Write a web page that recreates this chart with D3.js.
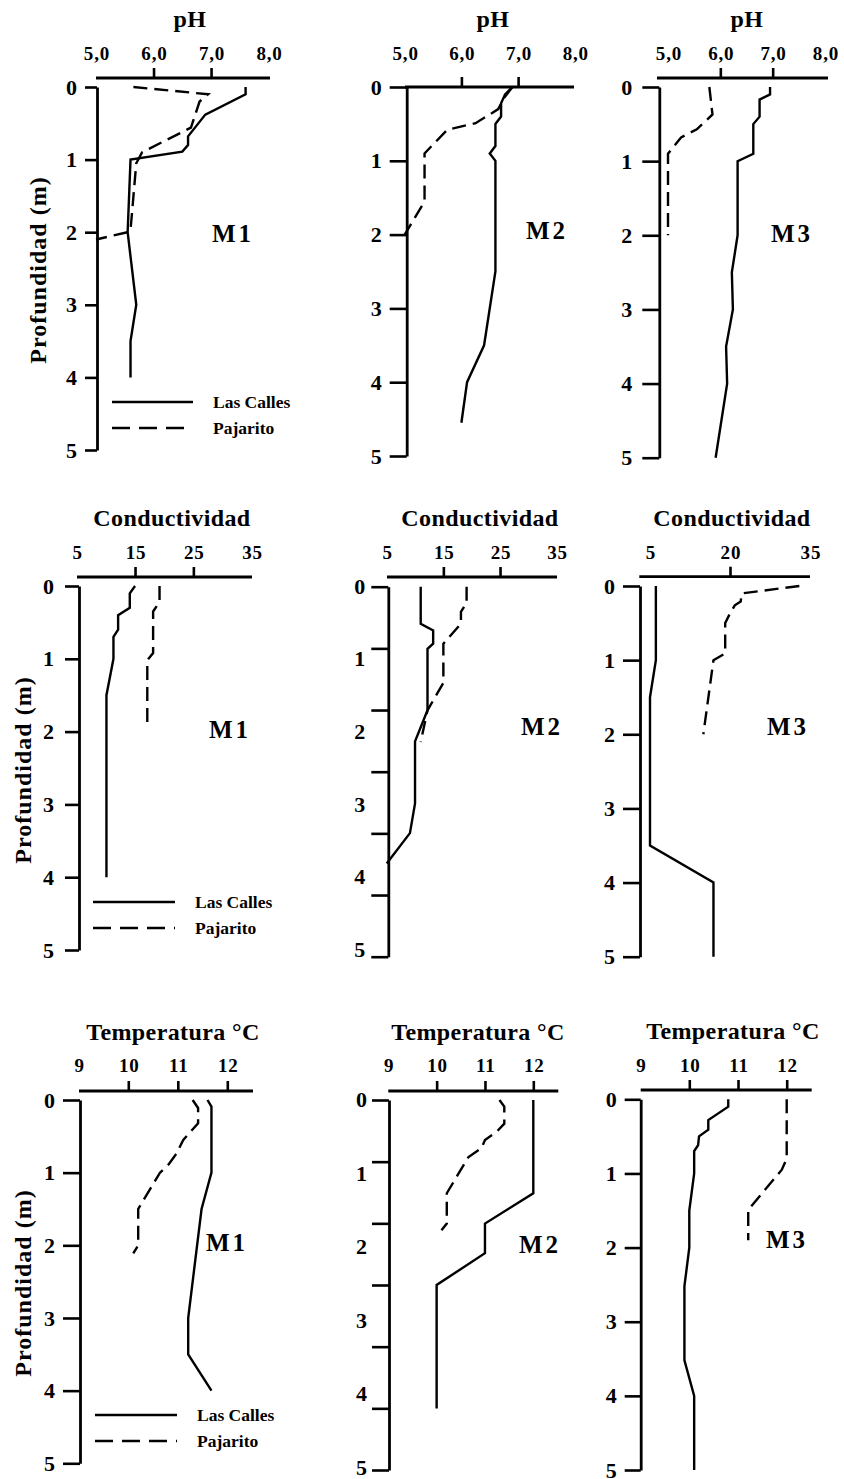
<!DOCTYPE html>
<html>
<head>
<meta charset="utf-8">
<script src="https://cdn.jsdelivr.net/npm/d3@7"></script>
<style>
body { margin: 0; background: #fff; }
svg text { font-family: "Liberation Serif", "Times New Roman", serif; font-weight: bold; fill: #000; }
</style>
</head>
<body>
<svg id="chart" width="844" height="1479"></svg>
<script>
// tick labels of the value axes and the depth axis
var phTicks = [5, 6, 7, 8];
var condTicks = [5, 15, 25, 35];
var condTicksM3 = [5, 20, 35];
var tempTicks = [9, 10, 11, 12];
var depthTicks = [0, 1, 2, 3, 4, 5];
var seriesNames = ["Las Calles", "Pajarito"];

// each point: [value, depth (m)]
var phM1Calles = [[7.6,0],[7.6,0.1],[6.9,0.38],[6.6,0.68],[6.6,0.8],[6.5,0.89],[5.6,1.0],[5.55,2.0],[5.7,3.0],[5.6,3.5],[5.6,4.0]];
var phM1Pajarito = [[5.65,0],[6.95,0.1],[6.8,0.2],[6.65,0.56],[5.8,0.9],[5.7,1.05],[5.6,1.97],[5.55,2.0],[5.0,2.1]];
var phM2Calles = [[6.9,0],[6.77,0.1],[6.7,0.22],[6.7,0.4],[6.6,0.5],[6.6,0.8],[6.5,0.9],[6.6,1.0],[6.6,2.5],[6.4,3.5],[6.1,4.0],[6.0,4.55]];
var phM2Pajarito = [[6.9,0],[6.75,0.15],[6.65,0.3],[6.25,0.49],[5.75,0.58],[5.35,0.9],[5.35,1.55],[5.0,2.0]];
var phM3Calles = [[6.95,0],[6.95,0.1],[6.75,0.17],[6.75,0.4],[6.63,0.5],[6.63,0.9],[6.33,1.0],[6.33,2.0],[6.22,2.5],[6.24,3.0],[6.11,3.5],[6.13,4.0],[5.91,5.0]];
var phM3Pajarito = [[5.79,0],[5.85,0.37],[5.55,0.57],[5.25,0.68],[5.0,0.9],[5.0,2.0]];

var condM1Calles = [[15,0],[14.1,0.1],[14.1,0.3],[12.1,0.4],[12.1,0.6],[11.3,0.7],[11.3,1.0],[10.1,1.5],[10.1,4.0]];
var condM1Pajarito = [[19.2,0],[19.2,0.22],[18.1,0.35],[18.1,0.92],[17.1,1.02],[17.1,1.95]];
var condM2Calles = [[11,0],[11,0.5],[13.2,0.59],[13.2,0.77],[12.2,0.84],[12.2,1.67],[10,2.09],[10,2.93],[9.1,3.33],[5,3.74]];
var condM2Pajarito = [[19.1,0],[19.1,0.22],[18.1,0.34],[18.1,0.5],[15,0.77],[15,1.3],[12.2,1.67],[11,2.1]];
var condM3Calles = [[6.1,0],[6.1,1.0],[5,1.5],[5,3.5],[16.9,4.0],[16.9,5.0]];
var condM3Pajarito = [[33,0],[22.2,0.1],[22,0.21],[20.9,0.26],[20,0.37],[19.1,0.5],[19.1,0.91],[16.9,1.0],[15,2.0]];

var tempM1Calles = [[11.6,0],[11.68,0.09],[11.68,1.0],[11.48,1.5],[11.21,3.0],[11.21,3.5],[11.68,4.0]];
var tempM1Pajarito = [[11.3,0],[11.41,0.11],[11.41,0.32],[11.11,0.55],[10.98,0.73],[10.81,0.89],[10.64,1.0],[10.2,1.5],[10.2,2.0],[10.1,2.11]];
var tempM2Calles = [[12,0],[12,1.26],[11,1.67],[11,2.07],[10,2.5],[10,4.17]];
var tempM2Pajarito = [[11.3,0],[11.4,0.09],[11.4,0.32],[11.24,0.43],[11.0,0.54],[10.93,0.65],[10.66,0.77],[10.21,1.26],[10.21,1.67],[10.1,1.76]];
var tempM3Calles = [[10.8,0],[10.8,0.1],[10.39,0.28],[10.39,0.41],[10.2,0.5],[10.18,0.62],[10.1,0.7],[10.1,1.0],[10,1.5],[10,2.0],[9.9,2.52],[9.9,3.52],[10.1,4.0],[10.1,5.0]];
var tempM3Pajarito = [[12,0],[12,0.8],[11.9,0.95],[11.21,1.49],[11.21,1.9]];

var svg = d3.select("#chart");
var commaFmt = function(d) { return d3.format(".1f")(d).replace(".", ","); };
var intFmt = d3.format("d");
var sixths = d3.range(7).map(function(k) { return k * 5 / 6; });

var panels = [
	{title: "pH", name: "M1", calles: phM1Calles, pajarito: phM1Pajarito, ticks: phTicks, marks: [6, 7], fmt: commaFmt,
	 dom: [5, 8], xr: [96, 268.6], line: [96, 270], axisY: 78, labBase: 59.5, titleX: 190, titleY: 27,
	 yr: [87, 450], yx: 97, tickLen: 12, pad: 8, nameXY: [233, 242], legend: [112, 193, 402], ylab: [38, 270]},
	{title: "pH", name: "M2", calles: phM2Calles, pajarito: phM2Pajarito, ticks: phTicks, marks: [6, 7], fmt: commaFmt,
	 dom: [5, 8], xr: [404.7, 574.8], line: [405, 574], axisY: 87, labBase: 59.5, titleX: 493, titleY: 27,
	 yr: [87, 456], yx: 406.7, tickLen: 17, pad: 8, nameXY: [547, 239]},
	{title: "pH", name: "M3", calles: phM3Calles, pajarito: phM3Pajarito, ticks: phTicks, marks: [6, 7], fmt: commaFmt,
	 dom: [5, 8], xr: [668, 825], line: [657, 828], axisY: 78, labBase: 59.5, titleX: 747, titleY: 27,
	 yr: [87, 457.7], yx: 659.3, tickLen: 17, pad: 10, nameXY: [792, 242]},

	{title: "Conductividad", name: "M1", calles: condM1Calles, pajarito: condM1Pajarito, ticks: condTicks, marks: [15, 25], fmt: intFmt,
	 dom: [5, 35], xr: [76.7, 251.7], line: [77, 252], axisY: 577, labBase: 559, titleX: 172, titleY: 526,
	 yr: [586, 950], yx: 79, tickLen: 14, pad: 11, nameXY: [230, 738], legend: [93, 175, 902], ylab: [23, 770]},
	{title: "Conductividad", name: "M2", calles: condM2Calles, pajarito: condM2Pajarito, ticks: condTicks, marks: [15, 25], fmt: intFmt,
	 dom: [5, 35], xr: [386.7, 556.7], line: [387, 557], axisY: 577, labBase: 559, titleX: 480, titleY: 526,
	 yr: [586.7, 956.7], yx: 388.3, tickLen: 17, pad: 6, nameXY: [542, 735], sixths: true, labRange: [586.7, 950]},
	{title: "Conductividad", name: "M3", calles: condM3Calles, pajarito: condM3Pajarito, ticks: condTicksM3, marks: [20], fmt: intFmt,
	 dom: [5, 35], xr: [650, 810], line: [639.3, 810], axisY: 576.7, labBase: 559, titleX: 732, titleY: 526,
	 yr: [586, 956.7], yx: 640, tickLen: 17, pad: 8, nameXY: [788, 735]},

	{title: "Temperatura °C", name: "M1", calles: tempM1Calles, pajarito: tempM1Pajarito, ticks: tempTicks, marks: [10, 11, 12], fmt: intFmt,
	 dom: [9, 12], xr: [78.8, 227.3], line: [79, 253], axisY: 1091, labBase: 1072, titleX: 173, titleY: 1040,
	 yr: [1100, 1463.3], yx: 80, tickLen: 17, pad: 8, nameXY: [227, 1251], legend: [95, 177, 1415], ylab: [23, 1283]},
	{title: "Temperatura °C", name: "M2", calles: tempM2Calles, pajarito: tempM2Pajarito, ticks: tempTicks, marks: [10, 11, 12], fmt: intFmt,
	 dom: [9, 12], xr: [388.3, 533.3], line: [388.3, 558.3], axisY: 1091, labBase: 1072, titleX: 478, titleY: 1040,
	 yr: [1100, 1470], yx: 389, tickLen: 17, pad: 5, nameXY: [540, 1253], sixths: true, labRange: [1100, 1468]},
	{title: "Temperatura °C", name: "M3", calles: tempM3Calles, pajarito: tempM3Pajarito, ticks: tempTicks, marks: [10, 11, 12], fmt: intFmt,
	 dom: [9, 12], xr: [640.6, 786.7], line: [640.7, 811.7], axisY: 1090, labBase: 1072, titleX: 733, titleY: 1039,
	 yr: [1099.3, 1470], yx: 640.7, tickLen: 16, pad: 8, nameXY: [787, 1248]}
];

function drawPanel(p)
{
	var x = d3.scaleLinear().domain(p.dom).range(p.xr);
	var y = d3.scaleLinear().domain([0, 5]).range(p.yr);
	var g = svg.append("g");

	// value axis on top
	var gx = g.append("g")
		.attr("transform", "translate(0," + p.axisY + ")")
		.call(d3.axisTop(x)
			.tickValues(p.ticks)
			.tickSize(10)
			.tickSizeOuter(0)
			.tickPadding(p.axisY - 10 - p.labBase)
			.tickFormat(p.fmt));
	gx.attr("font-size", 19).attr("font-family", null);
	gx.select(".domain").attr("d", "M" + p.line[0] + ",0H" + p.line[1]).attr("stroke-width", 2.8);
	gx.selectAll(".tick line").attr("stroke-width", 2.6)
		.attr("opacity", function(d) { return p.marks.indexOf(d) >= 0 ? 1 : 0; });
	gx.selectAll(".tick text").attr("letter-spacing", 0.8).attr("dx", 0.4);

	g.append("text")
		.attr("x", p.titleX)
		.attr("y", p.titleY)
		.attr("text-anchor", "middle")
		.attr("font-size", 24)
		.attr("letter-spacing", 0.4)
		.text(p.title);

	// depth axis
	var gy = g.append("g")
		.attr("transform", "translate(" + p.yx + ",0)")
		.call(d3.axisLeft(y)
			.tickValues(p.sixths ? sixths : depthTicks)
			.tickSize(p.tickLen)
			.tickSizeOuter(0)
			.tickPadding(p.pad)
			.tickFormat(p.sixths ? "" : intFmt));
	gy.attr("font-size", 22).attr("font-family", null);
	gy.select(".domain").attr("stroke-width", 2.8);
	gy.selectAll(".tick line").attr("stroke-width", 2.6);

	if (p.sixths) {
		var yl = d3.scaleLinear().domain([0, 5]).range(p.labRange);
		g.selectAll(".dlab")
			.data(depthTicks)
			.enter()
			.append("text")
			.attr("x", p.yx - p.tickLen - p.pad)
			.attr("y", function(d) { return yl(d); })
			.attr("dy", "0.32em")
			.attr("text-anchor", "end")
			.attr("font-size", 22)
			.text(function(d) { return d; });
	}

	var line = d3.line()
		.x(function(d) { return x(d[0]); })
		.y(function(d) { return y(d[1]); });

	g.append("path")
		.datum(p.calles)
		.attr("d", line)
		.attr("fill", "none")
		.attr("stroke", "#000")
		.attr("stroke-width", 2.4);

	g.append("path")
		.datum(p.pajarito)
		.attr("d", line)
		.attr("fill", "none")
		.attr("stroke", "#000")
		.attr("stroke-width", 2.4)
		.attr("stroke-dasharray", "14,7");

	g.append("text")
		.attr("x", p.nameXY[0])
		.attr("y", p.nameXY[1])
		.attr("text-anchor", "middle")
		.attr("font-size", 25)
		.attr("letter-spacing", 3)
		.text(p.name);

	if (p.legend) {
		var lg = g.append("g");
		lg.selectAll("line")
			.data(seriesNames)
			.enter()
			.append("line")
			.attr("x1", p.legend[0])
			.attr("x2", p.legend[1])
			.attr("y1", function(d, i) { return p.legend[2] + i * 26; })
			.attr("y2", function(d, i) { return p.legend[2] + i * 26; })
			.attr("stroke", "#000")
			.attr("stroke-width", 2.4)
			.attr("stroke-dasharray", function(d, i) { return i ? "18,9" : null; });
		lg.selectAll("text")
			.data(seriesNames)
			.enter()
			.append("text")
			.attr("x", p.legend[1] + 20)
			.attr("y", function(d, i) { return p.legend[2] + i * 26 + 6; })
			.attr("font-size", 17.5)
			.text(function(d) { return d; });
	}

	if (p.ylab) {
		g.append("text")
			.attr("transform", "translate(" + p.ylab[0] + "," + p.ylab[1] + ") rotate(-90)")
			.attr("text-anchor", "middle")
			.attr("dy", "0.35em")
			.attr("font-size", 24)
			.attr("letter-spacing", 1)
			.text("Profundidad (m)");
	}
}

panels.forEach(drawPanel);
</script>
</body>
</html>
